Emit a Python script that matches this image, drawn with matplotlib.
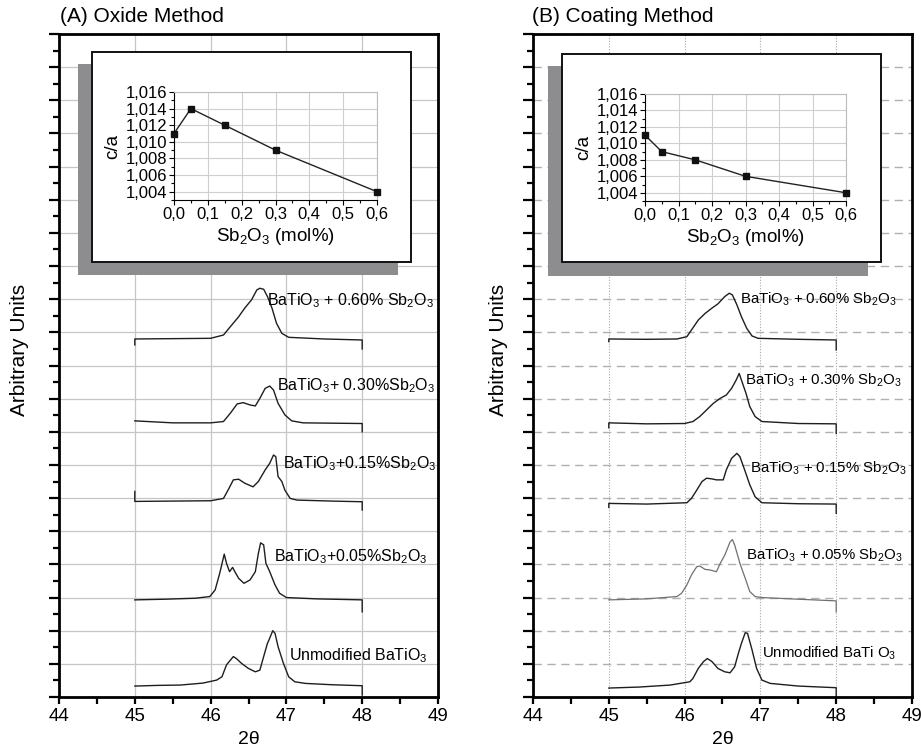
# -*- coding: utf-8 -*-
"""
XRD (200)/(002) Peaks von BaTiO3 mit Sb2O3, Oxid- und Beschichtungsmethode
"""
import matplotlib
matplotlib.use('Agg')
import matplotlib.pyplot as plt
from matplotlib.patches import Rectangle
from matplotlib.ticker import MultipleLocator

plt.rcParams['font.family'] = ['Liberation Sans', 'DejaVu Sans']
plt.rcParams['mathtext.default'] = 'regular'

####### Daten #################################

# (2theta, Intensitaet in willkuerlichen Einheiten) - Oxid-Methode
oxid_000 = [(45.0, 0.33), (45.3, 0.35), (45.6, 0.36), (45.9, 0.42), (46.08, 0.51), (46.15, 0.61),
            (46.21, 0.97), (46.30, 1.22), (46.34, 1.16), (46.41, 1.01), (46.50, 0.86), (46.59, 0.76),
            (46.65, 0.81), (46.70, 1.22), (46.75, 1.62), (46.77, 1.72), (46.82, 2.00), (46.85, 1.92),
            (46.89, 1.52), (46.96, 1.02), (47.03, 0.61), (47.11, 0.46), (47.25, 0.41), (47.6, 0.37),
            (48.0, 0.34), (48.0, 0.06)]
oxid_005 = [(45.0, 2.93), (45.4, 2.95), (45.8, 2.98), (45.99, 3.03), (46.06, 3.23), (46.12, 3.73),
            (46.18, 4.31), (46.21, 4.03), (46.25, 3.78), (46.29, 3.91), (46.32, 3.78), (46.37, 3.58),
            (46.44, 3.43), (46.52, 3.53), (46.59, 3.78), (46.63, 4.33), (46.66, 4.65), (46.70, 4.59),
            (46.73, 4.03), (46.78, 3.78), (46.85, 3.38), (46.91, 3.13), (47.00, 3.00), (47.4, 2.96),
            (48.0, 2.93), (48.0, 2.57)]
oxid_015 = [(45.0, 6.20), (45.0, 5.90), (45.5, 5.91), (46.0, 5.92), (46.17, 5.99), (46.23, 6.24),
            (46.30, 6.55), (46.37, 6.57), (46.45, 6.45), (46.56, 6.34), (46.63, 6.50), (46.72, 6.85),
            (46.78, 7.05), (46.83, 7.30), (46.86, 7.25), (46.89, 6.65), (46.94, 6.50), (46.98, 6.24),
            (47.05, 5.99), (47.14, 5.94), (47.6, 5.91), (48.0, 5.89), (48.0, 5.64)]
oxid_030 = [(45.0, 8.33), (45.5, 8.27), (46.0, 8.27), (46.17, 8.31), (46.26, 8.56), (46.35, 8.84),
            (46.43, 8.88), (46.52, 8.81), (46.59, 8.78), (46.65, 9.01), (46.72, 9.31), (46.78, 9.38),
            (46.83, 9.26), (46.89, 8.86), (46.98, 8.51), (47.07, 8.33), (47.22, 8.27), (47.6, 8.26),
            (48.0, 8.25), (48.0, 8.00)]
oxid_060 = [(45.0, 10.62), (45.0, 10.80), (45.5, 10.81), (46.0, 10.82), (46.17, 10.92), (46.26, 11.17),
            (46.37, 11.47), (46.45, 11.73), (46.54, 11.98), (46.61, 12.28), (46.65, 12.33), (46.70, 12.30),
            (46.75, 12.08), (46.81, 11.73), (46.87, 11.27), (46.94, 10.97), (47.03, 10.85), (47.5, 10.80),
            (48.0, 10.77), (48.0, 10.50)]

# Beschichtungs-Methode
besch_000 = [(45.0, 0.27), (45.4, 0.30), (45.81, 0.36), (46.07, 0.46), (46.11, 0.56), (46.18, 0.86),
             (46.25, 1.07), (46.30, 1.16), (46.36, 1.07), (46.44, 0.86), (46.53, 0.76), (46.60, 0.73),
             (46.66, 0.91), (46.71, 1.32), (46.75, 1.62), (46.80, 1.94), (46.83, 1.92), (46.89, 1.42),
             (46.95, 0.86), (47.02, 0.51), (47.13, 0.41), (47.5, 0.33), (48.0, 0.28), (48.0, 0.00)]
besch_005 = [(45.0, 2.93), (45.5, 2.96), (45.90, 3.03), (45.96, 3.13), (46.03, 3.38), (46.09, 3.68),
             (46.16, 3.93), (46.20, 3.95), (46.27, 3.85), (46.34, 3.83), (46.42, 3.78), (46.47, 4.03),
             (46.53, 4.28), (46.60, 4.68), (46.63, 4.75), (46.66, 4.59), (46.73, 4.03), (46.80, 3.58),
             (46.86, 3.18), (46.93, 3.03), (47.02, 3.00), (47.5, 2.95), (48.0, 2.90), (48.0, 2.57)]
besch_015 = [(45.0, 5.72), (45.0, 5.84), (45.5, 5.82), (46.03, 5.86), (46.09, 5.99), (46.16, 6.24),
             (46.23, 6.50), (46.29, 6.60), (46.36, 6.58), (46.42, 6.55), (46.51, 6.55), (46.55, 6.85),
             (46.62, 7.20), (46.69, 7.35), (46.73, 7.25), (46.80, 6.80), (46.86, 6.40), (46.93, 6.04),
             (47.02, 5.86), (47.5, 5.83), (48.0, 5.82), (48.0, 5.54)]
besch_030 = [(45.0, 8.12), (45.0, 8.27), (45.5, 8.24), (46.0, 8.25), (46.11, 8.31), (46.20, 8.46),
             (46.29, 8.66), (46.38, 8.86), (46.47, 9.01), (46.55, 9.11), (46.62, 9.31), (46.68, 9.56),
             (46.72, 9.76), (46.75, 9.56), (46.81, 9.16), (46.86, 8.76), (46.93, 8.46), (47.02, 8.31),
             (47.5, 8.25), (48.0, 8.24), (48.0, 7.95)]
besch_060 = [(45.0, 10.72), (45.0, 10.80), (45.5, 10.79), (45.9, 10.80), (46.03, 10.87), (46.09, 11.07),
             (46.18, 11.37), (46.27, 11.57), (46.36, 11.73), (46.44, 11.86), (46.53, 12.08), (46.59, 12.18),
             (46.63, 12.13), (46.69, 11.83), (46.75, 11.47), (46.82, 11.12), (46.89, 10.89), (46.97, 10.82),
             (47.5, 10.79), (48.0, 10.77), (48.0, 10.47)]

# Beschriftungen der Kurven (Text, x-Start, y-Mitte)
texte_oxid = [('Unmodified BaTiO$_3$', 47.04, 1.24),
              ('BaTiO$_3$+0.05%Sb$_2$O$_3$', 46.84, 4.22),
              ('BaTiO$_3$+0.15%Sb$_2$O$_3$', 46.95, 7.05),
              ('BaTiO$_3$+ 0.30%Sb$_2$O$_3$', 46.87, 9.40),
              ('BaTiO$_3$ + 0.60% Sb$_2$O$_3$', 46.75, 11.95)]
texte_besch = [('Unmodified BaTi O$_3$', 47.02, 1.32),
               ('BaTiO$_3$ + 0.05% Sb$_2$O$_3$', 46.81, 4.28),
               ('BaTiO$_3$ + 0.15% Sb$_2$O$_3$', 46.86, 6.90),
               ('BaTiO$_3$ + 0.30% Sb$_2$O$_3$', 46.80, 9.55),
               ('BaTiO$_3$ + 0.60% Sb$_2$O$_3$', 46.73, 12.00)]

# Einsatz: c/a ueber Sb2O3-Gehalt
sb_gehalt = [0.0, 0.05, 0.15, 0.30, 0.60]
ca_oxid = [1.011, 1.014, 1.012, 1.009, 1.004]
ca_besch = [1.011, 1.009, 1.008, 1.006, 1.004]
ins_xticks = [0.0, 0.1, 0.2, 0.3, 0.4, 0.5, 0.6]
ins_xlabels = ['0,0', '0,1', '0,2', '0,3', '0,4', '0,5', '0,6']
ins_yticks = [1.004, 1.006, 1.008, 1.010, 1.012, 1.014, 1.016]
ins_ylabels = ['1,004', '1,006', '1,008', '1,010', '1,012', '1,014', '1,016']

W, H = 921, 749
fig = plt.figure(figsize=(W / 100, H / 100), dpi=100)


# Pixel-Rechteck (links, oben, rechts, unten) -> Figure-Koordinaten
def fpos(l, o, r, u):
    return [l / W, 1 - u / H, (r - l) / W, (u - o) / H]


# Hauptdiagramm mit den XRD-Kurven
def hauptachse(pix, kurven, texte, gitter, tgroesse, hell=None):
    ax = fig.add_axes(fpos(*pix))
    for i, k in enumerate(kurven):
        farbe, lw = '#1e1e1e', 1.0
        if hell == i:
            farbe, lw = '#707070', 0.9
        ax.plot([p[0] for p in k], [p[1] for p in k], color=farbe, lw=lw)
    for t, x, y in texte:
        ax.text(x, y, t, fontsize=tgroesse, va='center', ha='left')
    ax.set_xlim(44, 49)
    ax.set_ylim(0, 20)
    ax.xaxis.set_major_locator(MultipleLocator(1))
    ax.xaxis.set_minor_locator(MultipleLocator(0.5))
    ax.yaxis.set_major_locator(MultipleLocator(1))
    ax.yaxis.set_minor_locator(MultipleLocator(0.5))
    ax.tick_params(axis='y', which='both', labelleft=False, direction='out', width=1.6)
    ax.tick_params(axis='y', which='major', length=7)
    ax.tick_params(axis='y', which='minor', length=4)
    ax.tick_params(axis='x', which='both', direction='out', length=5, width=1.6,
                   labelsize=13.5, pad=3)
    for s in ax.spines.values():
        s.set_linewidth(2)
    if gitter == 'voll':
        ax.grid(True, which='major', color='#c6c6c6', lw=0.9)
    else:
        ax.yaxis.grid(True, which='major', color='#b0b0b0', lw=1.0, linestyle=(0, (6, 4)))
        ax.xaxis.grid(True, which='major', color='#a8a8a8', lw=0.8, linestyle=(0, (1, 1.5)))
    ax.set_axisbelow(True)
    return ax


# Eingesetztes Diagramm c/a mit grauem Schatten
def einsatz(schatten, kasten, achse, werte):
    fig.add_artist(Rectangle(fpos(*schatten)[:2], *fpos(*schatten)[2:], transform=fig.transFigure,
                             facecolor='#8d8d90', edgecolor='none', zorder=2))
    fig.add_artist(Rectangle(fpos(*kasten)[:2], *fpos(*kasten)[2:], transform=fig.transFigure,
                             facecolor='white', edgecolor='#111111', lw=1.4, zorder=3))
    ins = fig.add_axes(fpos(*achse), zorder=4)
    ins.plot(sb_gehalt, werte, color='#222222', lw=1.0, marker='s', ms=4.5,
             mfc='#111111', mec='#111111', clip_on=False, zorder=5)
    ins.set_xlim(0, 0.6)
    ins.set_ylim(1.003, 1.016)
    ins.set_xticks(ins_xticks)
    ins.set_xticklabels(ins_xlabels)
    ins.set_yticks(ins_yticks)
    ins.set_yticklabels(ins_ylabels)
    ins.xaxis.set_minor_locator(MultipleLocator(0.05))
    ins.yaxis.set_minor_locator(MultipleLocator(0.001))
    ins.grid(True, which='major', color='#cfcfcf', lw=0.8)
    ins.tick_params(which='both', labelsize=12, width=0.8, pad=1.5)
    ins.tick_params(which='major', length=3.5)
    ins.tick_params(which='minor', length=2)
    ins.spines['top'].set_color('#bbbbbb')
    ins.spines['right'].set_color('#bbbbbb')
    ins.set_ylabel('c/a', fontsize=13.5, labelpad=3)
    ins.set_xlabel('Sb$_2$O$_3$ (mol%)', fontsize=13.5, labelpad=3)


ax_a = hauptachse((59, 34, 438, 697), [oxid_000, oxid_005, oxid_015, oxid_030, oxid_060],
                  texte_oxid, 'voll', 11.5)
ax_b = hauptachse((533, 34, 912, 697), [besch_000, besch_005, besch_015, besch_030, besch_060],
                  texte_besch, 'gestrichelt', 10.8, hell=1)

einsatz((78, 64, 398, 275), (92, 52, 411, 262), (174, 92, 377, 200), ca_oxid)
einsatz((548, 66, 868, 276), (562, 54, 881, 262), (645, 94, 846, 201), ca_besch)

# Titel und Achsenbeschriftungen
fig.text(60 / W, 1 - 17 / H, '(A) Oxide Method', fontsize=15, va='center', ha='left')
fig.text(532 / W, 1 - 17 / H, '(B) Coating Method', fontsize=15, va='center', ha='left')
for xm, xl in [(248.5, 20), (722.5, 498)]:
    fig.text(xm / W, 1 - 740 / H, '2θ', fontsize=14, va='center', ha='center')
    fig.text(xl / W, 1 - 350 / H, 'Arbitrary Units', fontsize=15, rotation=90,
             va='center', ha='center')

fig.savefig('out.png', dpi=100)
